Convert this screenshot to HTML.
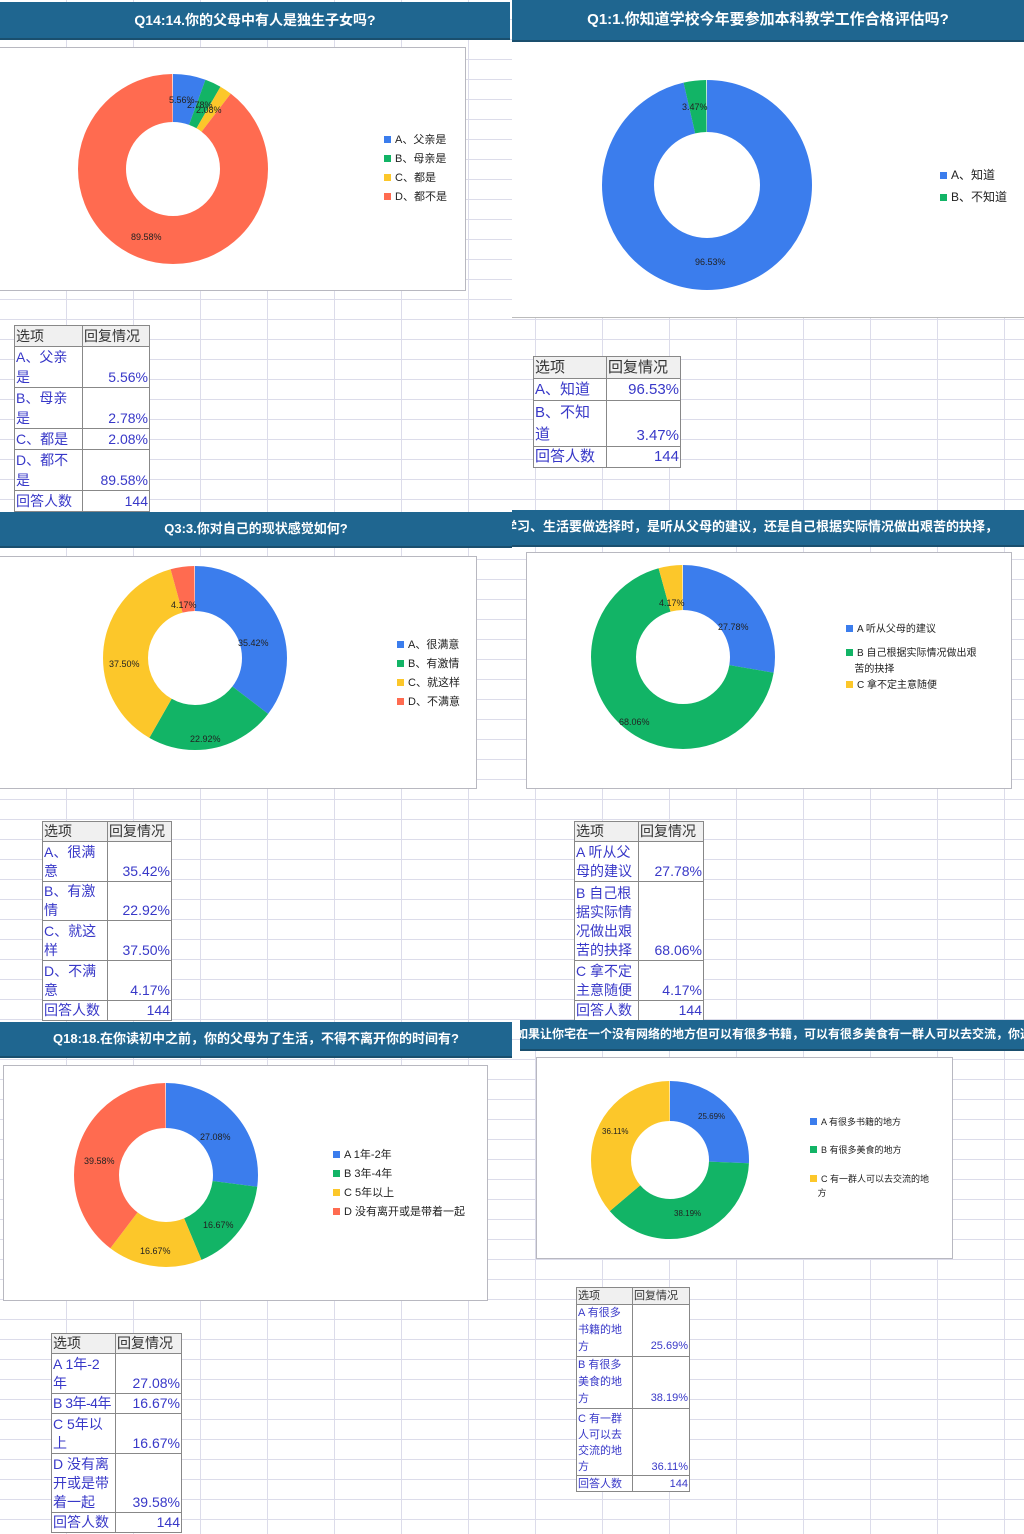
<!DOCTYPE html>
<html><head><meta charset="utf-8">
<style>
*{margin:0;padding:0;box-sizing:border-box}
body{width:1024px;height:1534px;position:relative;overflow:hidden;background:#fff;
font-family:"Liberation Sans","Noto Sans CJK SC",sans-serif;
background-image:repeating-linear-gradient(to bottom,transparent 0 19px,#dcdcea 19px 20px),repeating-linear-gradient(to right,transparent 0 66px,#dcdcea 66px 67px);}
.a{position:absolute}
.hd{position:absolute;background:#1f6690;color:#fff;font-weight:bold;font-size:14px;text-align:center;white-space:nowrap;overflow:hidden;border-bottom:2px solid #1a4f6e}
.box{position:absolute;background:#fff;border:1px solid #b8b8c0}
.lg{position:absolute;font-size:11px;color:#222;line-height:19px}
.lg i{display:inline-block;width:7px;height:7px;margin-right:4px;vertical-align:0}
.lb{position:absolute;font-size:9px;color:#222;white-space:nowrap}
table{position:absolute;border-collapse:collapse;background:#fff;font-size:14px;color:#3838c8;table-layout:fixed}
td{border:1px solid #888;vertical-align:bottom;line-height:20px;padding:0 1px;white-space:nowrap;overflow:hidden}
td.v{text-align:right}
tr.h td{background:#f0f0f0;color:#333;vertical-align:middle}
.t19 td{line-height:19px}
</style></head><body>

<!-- Panel 1 -->
<div class="hd" style="left:0;top:2px;width:510px;height:38px;line-height:36px">Q14:14.你的父母中有人是独生子女吗?</div>
<div class="box" style="left:-1px;top:47px;width:467px;height:244px"></div>
<svg class="a" style="left:0;top:0" width="510" height="300">
<g transform="rotate(-90 173 169)" fill="none" stroke-width="48">
<circle cx="173" cy="169" r="71" pathLength="100" stroke="#3b7ded" stroke-dasharray="5.56 100"/>
<circle cx="173" cy="169" r="71" pathLength="100" stroke="#12b466" stroke-dasharray="2.78 100" stroke-dashoffset="-5.56"/>
<circle cx="173" cy="169" r="71" pathLength="100" stroke="#fcc72a" stroke-dasharray="2.08 100" stroke-dashoffset="-8.34"/>
<circle cx="173" cy="169" r="71" pathLength="100" stroke="#ff6b50" stroke-dasharray="89.58 100" stroke-dashoffset="-10.42"/>
</g></svg>
<div class="lb" style="left:169px;top:95px">5.56%</div>
<div class="lb" style="left:187px;top:100px">2.78%</div>
<div class="lb" style="left:196px;top:105px">2.08%</div>
<div class="lb" style="left:131px;top:232px">89.58%</div>
<div class="lg" style="left:384px;top:131px"><i style="background:#3b7ded"></i>A、父亲是<br><i style="background:#12b466"></i>B、母亲是<br><i style="background:#fcc72a"></i>C、都是<br><i style="background:#ff6b50"></i>D、都不是</div>
<table style="left:14px;top:325px;width:135px"><col style="width:68px"><col style="width:67px">
<tr class="h" style="height:20px"><td>选项</td><td>回复情况</td></tr>
<tr style="height:41px"><td>A、父亲<br>是</td><td class="v">5.56%</td></tr>
<tr style="height:41px"><td>B、母亲<br>是</td><td class="v">2.78%</td></tr>
<tr style="height:20px"><td>C、都是</td><td class="v">2.08%</td></tr>
<tr style="height:41px"><td>D、都不<br>是</td><td class="v">89.58%</td></tr>
<tr style="height:21px"><td>回答人数</td><td class="v">144</td></tr></table>

<!-- Panel 2 -->
<div class="hd" style="left:512px;top:0;width:512px;height:42px;line-height:40px;font-size:15px">Q1:1.你知道学校今年要参加本科教学工作合格评估吗?</div>
<div class="a" style="left:512px;top:42px;width:512px;height:276px;background:#fff;border-bottom:1px solid #bbb"></div>
<svg class="a" style="left:510px;top:0" width="514" height="320">
<g transform="rotate(-90 197 185)" fill="none" stroke-width="52">
<circle cx="197" cy="185" r="79" pathLength="100" stroke="#3b7ded" stroke-dasharray="96.53 100"/>
<circle cx="197" cy="185" r="79" pathLength="100" stroke="#12b466" stroke-dasharray="3.47 100" stroke-dashoffset="-96.53"/>
</g></svg>
<div class="lb" style="left:682px;top:102px">3.47%</div>
<div class="lb" style="left:695px;top:257px">96.53%</div>
<div class="lg" style="left:940px;top:164px;font-size:12px;line-height:22px"><i style="background:#3b7ded"></i>A、知道<br><i style="background:#12b466"></i>B、不知道</div>
<table style="left:533px;top:356px;width:147px;font-size:15px"><col style="width:73px"><col style="width:74px">
<tr class="h" style="height:22px"><td>选项</td><td>回复情况</td></tr>
<tr style="height:22px"><td>A、知道</td><td class="v">96.53%</td></tr>
<tr style="height:46px"><td style="line-height:22px">B、不知<br>道</td><td class="v">3.47%</td></tr>
<tr style="height:21px"><td>回答人数</td><td class="v">144</td></tr></table>

<!-- Panel 3 -->
<div class="hd" style="left:0;top:512px;width:512px;height:36px;line-height:34px;font-size:13px">Q3:3.你对自己的现状感觉如何?</div>
<div class="box" style="left:-1px;top:556px;width:478px;height:233px"></div>
<svg class="a" style="left:0;top:500px" width="510" height="300">
<g transform="rotate(-90 195 158)" fill="none" stroke-width="45">
<circle cx="195" cy="158" r="69.5" pathLength="100" stroke="#3b7ded" stroke-dasharray="35.42 100"/>
<circle cx="195" cy="158" r="69.5" pathLength="100" stroke="#12b466" stroke-dasharray="22.92 100" stroke-dashoffset="-35.42"/>
<circle cx="195" cy="158" r="69.5" pathLength="100" stroke="#fcc72a" stroke-dasharray="37.5 100" stroke-dashoffset="-58.34"/>
<circle cx="195" cy="158" r="69.5" pathLength="100" stroke="#ff6b50" stroke-dasharray="4.17 100" stroke-dashoffset="-95.84"/>
</g></svg>
<div class="lb" style="left:171px;top:600px">4.17%</div>
<div class="lb" style="left:238px;top:638px">35.42%</div>
<div class="lb" style="left:109px;top:659px">37.50%</div>
<div class="lb" style="left:190px;top:734px">22.92%</div>
<div class="lg" style="left:397px;top:636px"><i style="background:#3b7ded"></i>A、很满意<br><i style="background:#12b466"></i>B、有激情<br><i style="background:#fcc72a"></i>C、就这样<br><i style="background:#ff6b50"></i>D、不满意</div>
<table class="t19" style="left:42px;top:821px;width:129px"><col style="width:65px"><col style="width:64px">
<tr class="h" style="height:20px"><td>选项</td><td>回复情况</td></tr>
<tr style="height:40px"><td>A、很满<br>意</td><td class="v">35.42%</td></tr>
<tr style="height:39px"><td>B、有激<br>情</td><td class="v">22.92%</td></tr>
<tr style="height:40px"><td>C、就这<br>样</td><td class="v">37.50%</td></tr>
<tr style="height:40px"><td>D、不满<br>意</td><td class="v">4.17%</td></tr>
<tr style="height:19px"><td>回答人数</td><td class="v">144</td></tr></table>

<!-- Panel 4 -->
<div class="hd" style="left:512px;top:510px;width:512px;height:37px;line-height:34px;font-size:13px;text-align:left;text-indent:-8px">学习、生活要做选择时，是听从父母的建议，还是自己根据实际情况做出艰苦的抉择，</div>
<div class="box" style="left:526px;top:552px;width:486px;height:237px"></div>
<svg class="a" style="left:510px;top:500px" width="514" height="300">
<g transform="rotate(-90 173 157)" fill="none" stroke-width="45">
<circle cx="173" cy="157" r="69.5" pathLength="100" stroke="#3b7ded" stroke-dasharray="27.78 100"/>
<circle cx="173" cy="157" r="69.5" pathLength="100" stroke="#12b466" stroke-dasharray="68.06 100" stroke-dashoffset="-27.78"/>
<circle cx="173" cy="157" r="69.5" pathLength="100" stroke="#fcc72a" stroke-dasharray="4.17 100" stroke-dashoffset="-95.84"/>
</g></svg>
<div class="lb" style="left:659px;top:598px">4.17%</div>
<div class="lb" style="left:718px;top:622px">27.78%</div>
<div class="lb" style="left:619px;top:717px">68.06%</div>
<div class="lg" style="left:846px;top:622px;font-size:10px;line-height:16px;width:160px"><i style="background:#3b7ded"></i>A 听从父母的建议<br><div style="height:8px"></div><i style="background:#12b466"></i>B 自己根据实际情况做出艰<br>&nbsp;&nbsp;&nbsp;苦的抉择<br><i style="background:#fcc72a"></i>C 拿不定主意随便</div>
<table class="t19" style="left:574px;top:821px;width:129px"><col style="width:64px"><col style="width:65px">
<tr class="h" style="height:20px"><td>选项</td><td>回复情况</td></tr>
<tr style="height:40px"><td>A 听从父<br>母的建议</td><td class="v">27.78%</td></tr>
<tr style="height:79px"><td>B 自己根<br>据实际情<br>况做出艰<br>苦的抉择</td><td class="v">68.06%</td></tr>
<tr style="height:40px"><td>C 拿不定<br>主意随便</td><td class="v">4.17%</td></tr>
<tr style="height:19px"><td>回答人数</td><td class="v">144</td></tr></table>

<!-- Panel 5 -->
<div class="hd" style="left:0;top:1022px;width:512px;height:36px;line-height:34px;font-size:13px">Q18:18.在你读初中之前，你的父母为了生活，不得不离开你的时间有?</div>
<div class="box" style="left:3px;top:1065px;width:485px;height:236px"></div>
<svg class="a" style="left:0;top:1000px" width="510" height="320">
<g transform="rotate(-90 166 175)" fill="none" stroke-width="45">
<circle cx="166" cy="175" r="69.5" pathLength="100" stroke="#3b7ded" stroke-dasharray="27.08 100"/>
<circle cx="166" cy="175" r="69.5" pathLength="100" stroke="#12b466" stroke-dasharray="16.67 100" stroke-dashoffset="-27.08"/>
<circle cx="166" cy="175" r="69.5" pathLength="100" stroke="#fcc72a" stroke-dasharray="16.67 100" stroke-dashoffset="-43.75"/>
<circle cx="166" cy="175" r="69.5" pathLength="100" stroke="#ff6b50" stroke-dasharray="39.58 100" stroke-dashoffset="-60.42"/>
</g></svg>
<div class="lb" style="left:200px;top:1132px">27.08%</div>
<div class="lb" style="left:84px;top:1156px">39.58%</div>
<div class="lb" style="left:203px;top:1220px">16.67%</div>
<div class="lb" style="left:140px;top:1246px">16.67%</div>
<div class="lg" style="left:333px;top:1146px"><i style="background:#3b7ded"></i>A 1年-2年<br><i style="background:#12b466"></i>B 3年-4年<br><i style="background:#fcc72a"></i>C 5年以上<br><i style="background:#ff6b50"></i>D 没有离开或是带着一起</div>
<table class="t19" style="left:51px;top:1333px;width:130px"><col style="width:64px"><col style="width:66px">
<tr class="h" style="height:20px"><td>选项</td><td>回复情况</td></tr>
<tr style="height:40px"><td>A 1年-2<br>年</td><td class="v">27.08%</td></tr>
<tr style="height:20px"><td style="letter-spacing:-0.5px">B 3年-4年</td><td class="v">16.67%</td></tr>
<tr style="height:40px"><td>C 5年以<br>上</td><td class="v">16.67%</td></tr>
<tr style="height:59px"><td>D 没有离<br>开或是带<br>着一起</td><td class="v">39.58%</td></tr>
<tr style="height:20px"><td>回答人数</td><td class="v">144</td></tr></table>

<!-- Panel 6 -->
<div class="hd" style="left:520px;top:1020px;width:504px;height:31px;line-height:29px;font-size:12px;text-align:left;text-indent:-4px">如果让你宅在一个没有网络的地方但可以有很多书籍，可以有很多美食有一群人可以去交流，你选择</div>
<div class="box" style="left:536px;top:1057px;width:417px;height:202px"></div>
<svg class="a" style="left:510px;top:1000px" width="514" height="300">
<g transform="rotate(-90 160 160)" fill="none" stroke-width="40">
<circle cx="160" cy="160" r="59" pathLength="100" stroke="#3b7ded" stroke-dasharray="25.69 100"/>
<circle cx="160" cy="160" r="59" pathLength="100" stroke="#12b466" stroke-dasharray="38.19 100" stroke-dashoffset="-25.69"/>
<circle cx="160" cy="160" r="59" pathLength="100" stroke="#fcc72a" stroke-dasharray="36.12 100" stroke-dashoffset="-63.88"/>
</g></svg>
<div class="lb" style="left:698px;top:1112px;font-size:8px">25.69%</div>
<div class="lb" style="left:602px;top:1127px;font-size:8px">36.11%</div>
<div class="lb" style="left:674px;top:1209px;font-size:8px">38.19%</div>
<div class="lg" style="left:810px;top:1115px;font-size:9px;line-height:14px;width:140px"><i style="background:#3b7ded"></i>A 有很多书籍的地方<div style="height:14px"></div><i style="background:#12b466"></i>B 有很多美食的地方<div style="height:15px"></div><i style="background:#fcc72a"></i>C 有一群人可以去交流的地<br>&nbsp;&nbsp;&nbsp;方</div>
<table style="left:576px;top:1287px;width:113px;font-size:11px"><col style="width:56px"><col style="width:57px">
<tr class="h" style="height:17px"><td style="line-height:15px">选项</td><td style="line-height:15px">回复情况</td></tr>
<tr style="height:52px"><td style="line-height:17px">A 有很多<br>书籍的地<br>方</td><td class="v">25.69%</td></tr>
<tr style="height:51px"><td style="line-height:17px">B 有很多<br>美食的地<br>方</td><td class="v">38.19%</td></tr>
<tr style="height:67px"><td style="line-height:16px">C 有一群<br>人可以去<br>交流的地<br>方</td><td class="v" style="line-height:16px">36.11%</td></tr>
<tr style="height:16px"><td style="line-height:14px">回答人数</td><td class="v" style="line-height:14px">144</td></tr></table>

</body></html>
